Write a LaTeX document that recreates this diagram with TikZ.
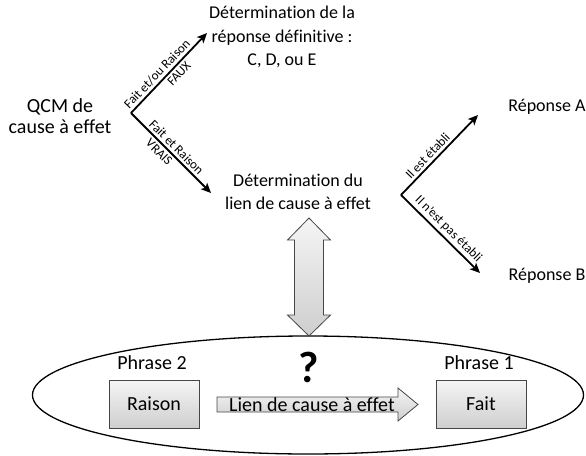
\documentclass[tikz,border=0pt]{standalone}
\usepackage{fontspec}
\setmainfont{Carlito}[RawFeature={-liga}]
\usetikzlibrary{arrows.meta,shapes.geometric}
\begin{document}
\begin{tikzpicture}[x=1pt,y=-1pt,
  txt/.style={inner sep=0pt,align=center,font=\fontsize{18}{23.5}\selectfont},
  big/.style={inner sep=0pt,align=center,font=\fontsize{20}{21}\selectfont},
  lbl/.style={inner sep=2.5pt,font=\fontsize{13}{14}\selectfont},
  arr/.style={line width=1.8pt,-{Stealth[length=10pt,width=9pt,inset=2.5pt]}},
  gbox/.style={draw=gray!55!black,line width=0.8pt,top color=gray!8,bottom color=gray!38,minimum width=90pt,minimum height=48pt,inner sep=0pt,font=\fontsize{20}{21}\selectfont},
  gshape/.style={draw=gray!55!black,line width=0.8pt,top color=gray!8,bottom color=gray!38}
]
\useasboundingbox (0,0) rectangle (586,455);
% text nodes
\node[big] (qcm) at (60,116) {QCM de\\cause à effet};
\node[txt] (det1) at (282,37) {Détermination de la\\réponse définitive :\\C, D, ou E};
\node[txt] (det2) at (298,192) {Détermination du\\lien de cause à effet};
\node[txt] (repA) at (547,107) {Réponse A};
\node[txt] (repB) at (547,276) {Réponse B};
% junctions and tips
\coordinate (j1) at (131,113);
\coordinate (t1) at (207,33);
\coordinate (t2) at (211,193);
\coordinate (j2) at (401,195);
\coordinate (t3) at (478,115);
\coordinate (t4) at (480,273);
\draw[arr] (j1) -- node[pos=0.42,sloped,above,lbl]{Fait et/ou Raison} node[pos=0.56,sloped,below,lbl]{FAUX} (t1);
\draw[arr] (j1) -- node[pos=0.5,sloped,above,lbl]{Fait et Raison} node[pos=0.42,sloped,below,lbl]{VRAIS} (t2);
\draw[arr] (j2) -- node[pos=0.42,sloped,above,lbl]{Il est établi} (t3);
\draw[arr] (j2) -- node[pos=0.52,sloped,above,lbl]{Il n'est pas établi} (t4);
% ellipse
\node[draw,line width=1.3pt,ellipse,minimum width=551pt,minimum height=118pt,inner sep=0pt] (ell) at (308,395) {};
% double arrow
\draw[gshape] (309,218) -- (330.5,240) -- (323.5,240) -- (323.5,315) -- (330.5,315) -- (309,336)
  -- (287.5,315) -- (294.5,315) -- (294.5,240) -- (287.5,240) -- cycle;
% boxes
\node[gbox] (raison) at (154,404) {Raison};
\node[gbox] (fait) at (481,404) {Fait};
\node[big] (ph2) at (152,363) {Phrase 2};
\node[big] (ph1) at (479,363) {Phrase 1};
\node[inner sep=0pt,font=\fontsize{44}{44}\selectfont\bfseries] (q) at (309,367) {?};
% lien arrow
\draw[gshape] (217,397) -- (398,397) -- (398,388) -- (418,404.5) -- (398,421) -- (398,412) -- (217,412) -- cycle;
\node[big] (lien) at (312,404.5) {Lien de cause à effet};
\end{tikzpicture}
\end{document}
